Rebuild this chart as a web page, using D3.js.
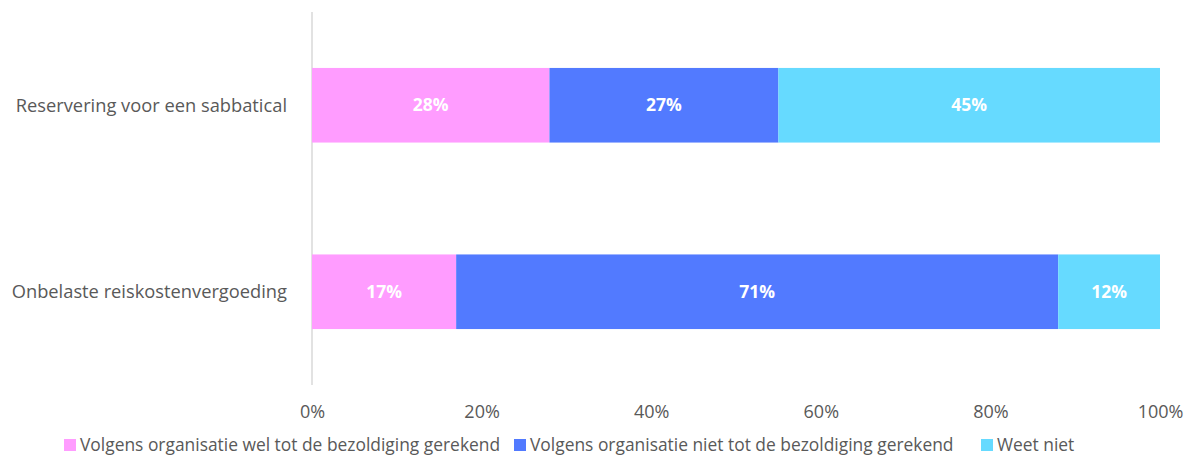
<!DOCTYPE html>
<html><head><meta charset="utf-8">
<script src="https://cdn.jsdelivr.net/npm/d3@7"></script>
<style>body{margin:0;background:#fff}text{font-family:"Open Sans",sans-serif}</style>
</head><body><svg id="c" width="1192" height="460"></svg>
<script>
const categories = ["Reservering voor een sabbatical", "Onbelaste reiskostenvergoeding"];
const seriesNames = ["Volgens organisatie wel tot de bezoldiging gerekend", "Volgens organisatie niet tot de bezoldiging gerekend", "Weet niet"];
const welValues = [28, 17];
const nietValues = [27, 71];
const weetValues = [45, 12];
const tickValues = [0, 20, 40, 60, 80, 100];
const colors = ["#FF9CFF", "#527AFF", "#66DAFF"];

const svg = d3.select("#c");
const x = d3.scaleLinear().domain([0, 100]).range([312, 1160]);
const y = d3.scaleBand().domain(categories).range([12, 385]).paddingInner(0.6).paddingOuter(0.3);
const series = [welValues, nietValues, weetValues];
const rows = categories.map((c, i) => {
  let acc = 0;
  return series.map((s, k) => { const d = {cat: c, k, v: s[i], x0: acc}; acc += s[i]; d.x1 = acc; return d; });
});

// axis line
svg.append("line").attr("x1", x(0)).attr("x2", x(0)).attr("y1", 12).attr("y2", 385).attr("stroke", "#d9d9d9").attr("stroke-width", 1.5);

const g = svg.append("g");
rows.flat().forEach(d => {
  g.append("rect").attr("x", x(d.x0)).attr("y", y(d.cat)).attr("width", x(d.x1) - x(d.x0)).attr("height", y.bandwidth()).attr("fill", colors[d.k]);
  g.append("text").attr("x", (x(d.x0) + x(d.x1)) / 2).attr("y", y(d.cat) + y.bandwidth() / 2).attr("dy", "0.35em")
    .attr("text-anchor", "middle").attr("fill", "#fff").attr("font-weight", "bold").attr("font-size", 17.5).text(d.v + "%");
});

// category labels
categories.forEach(c => {
  svg.append("text").attr("x", 287).attr("y", y(c) + y.bandwidth() / 2).attr("dy", "0.35em").attr("text-anchor", "end")
    .attr("fill", "#595959").attr("font-size", 18.3).text(c);
});

// x ticks
const xAxis = d3.axisBottom(x).tickValues(tickValues).tickFormat(d => d + "%").tickSize(0).tickPadding(0);
const ax = svg.append("g").attr("transform", "translate(0,412)").call(xAxis);
ax.select(".domain").remove();
ax.selectAll("text").attr("fill", "#595959").attr("font-size", 18).attr("dy", "0.35em").attr("y", 0).style("font-family", '"Open Sans",sans-serif');

// legend
const leg = svg.append("g");
const legY = 445;
const legendX = [64, 514, 981];
seriesNames.forEach((n, i) => {
  const gi = leg.append("g").attr("transform", `translate(${legendX[i]},0)`);
  gi.append("rect").attr("x", 0).attr("y", legY - 6).attr("width", 12).attr("height", 12).attr("fill", colors[i]);
  gi.append("text").attr("x", 16).attr("y", legY).attr("dy", "0.35em").attr("fill", "#595959").attr("font-size", 17.4).text(n);
});
</script></body></html>
